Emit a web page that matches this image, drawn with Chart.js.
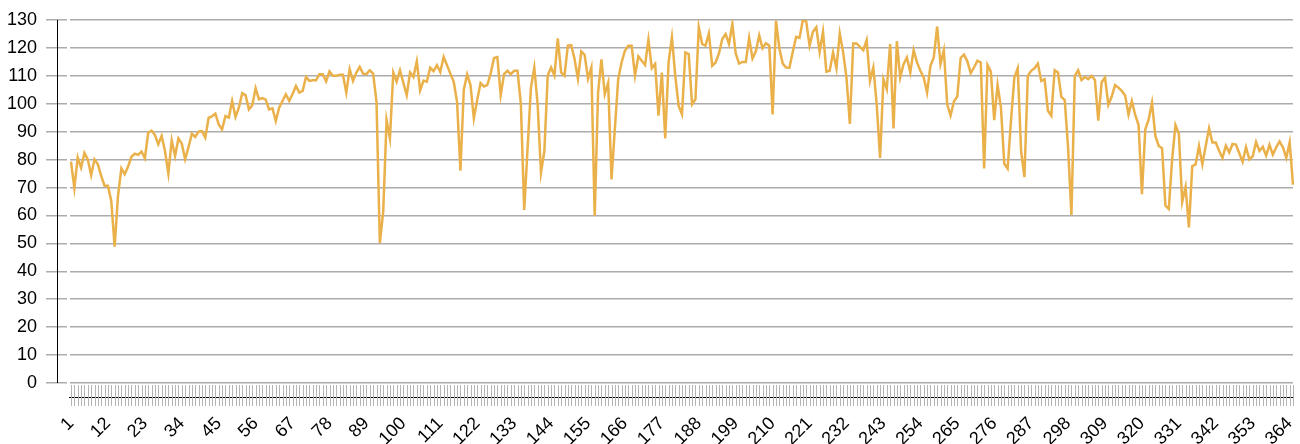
<!DOCTYPE html>
<html>
<head>
<meta charset="utf-8">
<script src="https://cdn.jsdelivr.net/npm/chart.js@4.4.1/dist/chart.umd.min.js"></script>
<style>
html, body { margin: 0; padding: 0; background: #fff; }
#wrap { width: 1300px; height: 444px; }
</style>
</head>
<body>
<div id="wrap"><canvas id="c" width="1300" height="444"></canvas></div>
<script>
// daily values
const values = [
  79.3, 69.8, 80.7, 77.1, 82.4, 80.1, 74.4, 80.1, 78.3, 74.2,
  70.6, 70.6, 65.2, 48.8, 67, 76.9, 74.8, 77.5, 81, 82.1,
  81.7, 82.9, 80.5, 89.6, 90.4, 88.8, 85.5, 88.5, 83.1, 75,
  86.9, 81.3, 87.6, 85.7, 80.1, 84.5, 89.3, 88.1, 90, 90.2,
  87.9, 95, 95.5, 96.5, 92.6, 90.8, 95.6, 95, 101, 95.3,
  98.6, 103.8, 103.1, 98, 99.5, 105.6, 101.6, 102, 101.5, 98,
  98.4, 93.8, 98.6, 101, 103.4, 101, 103.5, 106.4, 104, 104.6,
  109.6, 108.2, 108.4, 108.4, 110.6, 110.6, 108, 111.6, 110, 110,
  110.4, 110.4, 104, 112.4, 108.2, 111.2, 113.2, 110.8, 110.6, 112,
  110.8, 100.7, 50.1, 61.4, 94.2, 87.6, 111.2, 107.9, 112, 107.5,
  103.1, 111.2, 109.6, 115.2, 104.8, 108.3, 107.9, 112.9, 111.7, 113.8,
  111.4, 116.8, 113.8, 110.8, 107.9, 100.7, 76, 105, 110.5, 106.7,
  94.8, 101.4, 107.4, 106.2, 106.7, 110.8, 116.4, 116.7, 103.1, 110.6,
  111.8, 110.6, 111.8, 111.8, 100, 62, 84, 105.8, 113, 99.8,
  75.3, 83, 110.1, 113, 110.1, 123.4, 111.2, 110, 120.8, 121,
  116, 108.9, 118.7, 117.5, 108.9, 113, 59.9, 104, 115.9, 103.4,
  107.5, 72.9, 91, 108.9, 114.8, 119, 120.8, 120.8, 110.1, 117,
  115.4, 113.9, 122.9, 112.7, 114.3, 95.7, 111.2, 87.6, 114.8, 123.8,
  110, 99.2, 96.2, 118.4, 117.8, 99.8, 101.6, 127.4, 121.4, 120.8,
  125.2, 113.6, 114.8, 118, 123.2, 125, 121.4, 128.6, 118, 114.4,
  115, 115, 123.6, 116.2, 118.8, 124.5, 119.9, 121.7, 120.8, 96.2,
  129.8, 119.9, 114.4, 113, 112.9, 118.6, 124, 123.6, 130, 129.5,
  120.8, 125.8, 127.4, 118.6, 125.8, 111.5, 111.8, 118.4, 112.7, 125.2,
  118.4, 109.4, 92.8, 121.6, 121.6, 120.4, 119.2, 122.8, 108.2, 113,
  99.8, 80.6, 108.8, 105.2, 121.4, 91.2, 122.4, 109.4, 114.2, 116.6,
  111.2, 119.2, 114.8, 111.8, 109.4, 104, 113.6, 116.6, 127.6, 114.2,
  119.2, 99.8, 95.8, 100.8, 102.6, 116.4, 117.6, 115.2, 111, 113,
  115.4, 114.8, 76.8, 113.9, 111.5, 94.1, 106.8, 98.7, 78.5, 76.8,
  94, 109.4, 112.7, 83.2, 73.7, 110, 111.8, 112.7, 114.4, 108.2,
  108.8, 97.5, 95.7, 112, 111.2, 102.5, 101.3, 84.4, 60.2, 110,
  112, 108.5, 109.6, 108.8, 110, 108.5, 94, 107.7, 109.4, 99.6,
  102.6, 106.7, 105.8, 104.6, 103, 96.1, 101, 96, 92.4, 67.6,
  90.8, 94.4, 100.4, 88.5, 84.9, 84.1, 63.5, 62.3, 80.2, 92.4,
  89.3, 64.9, 70.2, 55.7, 77.7, 78.3, 84.9, 78.3, 84.9, 91.2,
  86.1, 86.1, 83.1, 80.6, 85, 82.6, 85.6, 85.4, 82.3, 79.2,
  84.5, 80.1, 81.2, 86.3, 83.1, 84.6, 81.4, 85.3, 81.8, 84.4,
  86.5, 84.4, 80.6, 86.2, 71
];
// categories are the day numbers 1..365
const days = values.map((v, i) => String(i + 1));
const labelStep = 11;   // a label every 11 days: 1, 12, 23 ...
const yMin = 0, yMax = 130, yStep = 10;

const FONT = "'Liberation Sans', Arial, sans-serif";

// axis lines + category tick marks, drawn from the scales
const axisDecor = {
  id: 'axisDecor',
  beforeDatasetsDraw(chart) {
    const { ctx, chartArea: a, scales: { x, y } } = chart;
    ctx.save();
    // small gap between y tick marks and grid lines
    ctx.fillStyle = '#fff';
    ctx.fillRect(a.left - 4, a.top - 2, 3, a.bottom - a.top + 4);

    ctx.strokeStyle = '#000';
    ctx.lineWidth = 1;
    const ax = Math.round(a.left - 14) + 0.5;
    ctx.beginPath();
    ctx.moveTo(ax, y.getPixelForValue(yMax));
    ctx.lineTo(ax, y.getPixelForValue(yMin));
    ctx.stroke();

    const ly = Math.round(a.bottom + 14) + 0.5;
    ctx.beginPath();
    ctx.moveTo(a.left - 2, ly);
    ctx.lineTo(a.right, ly);
    ctx.stroke();

    ctx.strokeStyle = '#b4b4b4';
    ctx.beginPath();
    days.forEach((d, i) => {
      const px = Math.round(x.getPixelForValue(i)) + 0.5;
      ctx.moveTo(px, a.bottom + 2);
      ctx.lineTo(px, a.bottom + 23);
    });
    ctx.stroke();
    ctx.restore();
  }
};

new Chart(document.getElementById('c'), {
  type: 'line',
  data: {
    labels: days,
    datasets: [{
      data: values,
      borderColor: '#EAB04A',
      borderWidth: 2.5,
      pointRadius: 0,
      tension: 0,
      fill: false
    }]
  },
  options: {
    responsive: false,
    animation: false,
    devicePixelRatio: 1,
    layout: { padding: { top: 20, right: 7, left: 0, bottom: 0 } },
    plugins: { legend: { display: false }, tooltip: { enabled: false } },
    scales: {
      x: {
        offset: false,
        grid: { display: false },
        border: { display: false },
        ticks: {
          autoSkip: false,
          maxRotation: 45,
          minRotation: 45,
          padding: 22,
          color: '#000',
          font: { family: FONT, size: 18 },
          callback: (v, i) => (i % labelStep === 0 ? days[i] : '')
        },
        afterFit: s => {
          s.height = 61;
          s.paddingLeft = 0;
          s.paddingRight = 0;
        }
      },
      y: {
        min: yMin,
        max: yMax,
        ticks: {
          stepSize: yStep,
          padding: 9,
          color: '#000',
          font: { family: FONT, size: 18 }
        },
        grid: { color: '#acacac', lineWidth: 1.5, tickLength: 25 },
        border: { display: false },
        afterFit: s => { s.width = 71; }
      }
    }
  },
  plugins: [axisDecor]
});
</script>
</body>
</html>
